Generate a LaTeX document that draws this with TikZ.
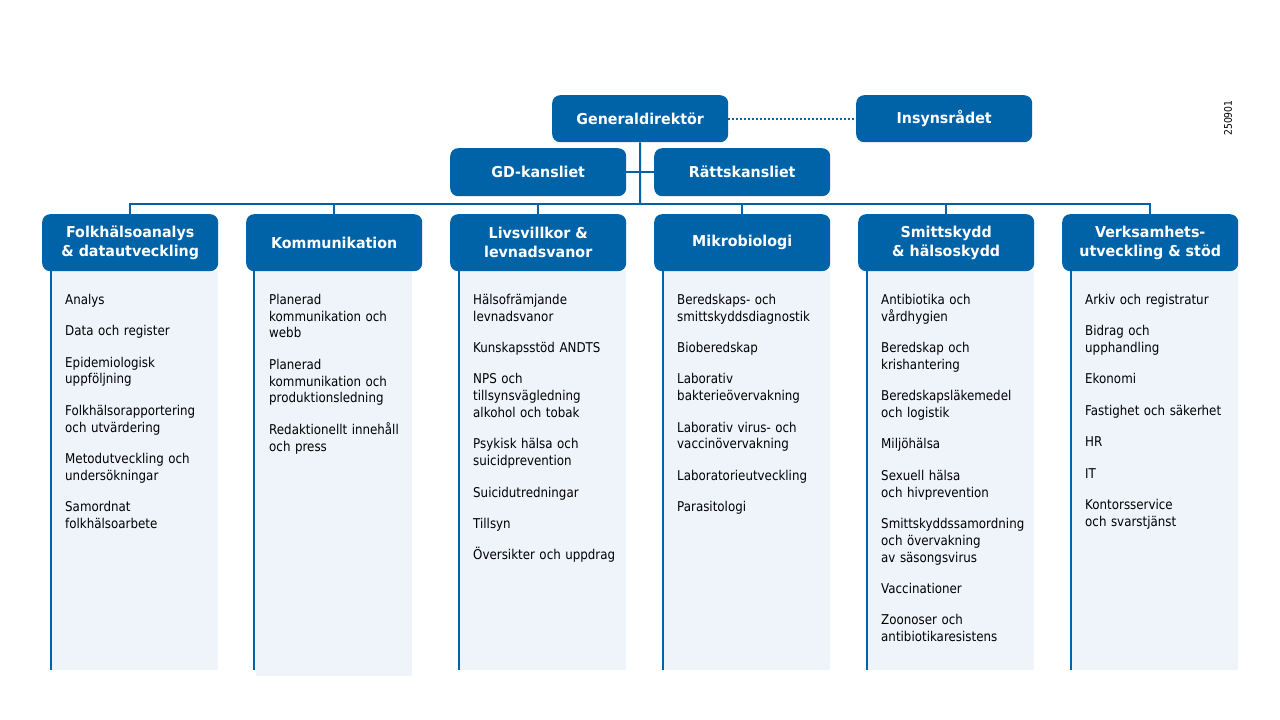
\documentclass[tikz,border=0pt]{standalone}
\usepackage{fontspec}
\setmainfont{DejaVu Sans}
\newfontfamily\hfont[FakeStretch=0.95]{DejaVu Sans}
\newfontfamily\lfont[FakeStretch=0.88]{DejaVu Sans}
\definecolor{fhmblue}{RGB}{0,99,167}
\definecolor{panelbg}{RGB}{239,244,250}
\newcommand{\fl}{\rule{0pt}{11pt}}
\begin{document}
\begin{tikzpicture}[x=1pt,y=-1pt,
 box/.style={fill=fhmblue, rounded corners=8pt, text=white, font=\hfont\bfseries\fontsize{15}{19}\selectfont, minimum width=176pt, minimum height=47pt, inner sep=0pt, align=center, anchor=north west},
 hbox/.style={box, minimum height=57pt},
 conn/.style={draw=fhmblue, line width=2pt},
 items/.style={anchor=north west, inner sep=0pt, text width=172pt, align=left, font=\lfont\fontsize{13.5}{16.8}\selectfont, text=black}
]
\useasboundingbox (0,0) rectangle (1280,720);
% panels
\foreach \i in {1,3,4,5,6}{
  \fill[panelbg] ({42+204*(\i-1)+8.5},271) rectangle ({42+204*(\i-1)+176},670);
  \draw[fhmblue, line width=2pt] ({42+204*(\i-1)+8.5},271) -- ({42+204*(\i-1)+8.5},670);
}
\fill[panelbg] (256,271) rectangle (412,676);
\draw[fhmblue, line width=2pt] (254,271) -- (254,670);
% top boxes
\node[box] (gd) at (552,95) {Generaldirektör};
\node[box] (ins) at (856,95) {Insynsrådet};
\node[box, minimum height=48pt] (gdk) at (450,148) {GD-kansliet};
\node[box, minimum height=48pt] (rk) at (654,148) {Rättskansliet};
% headers
\foreach \i/\t in {1/{Folkhälsoanalys\\ \& datautveckling},2/{Kommunikation},3/{Livsvillkor \&\\ levnadsvanor},4/{Mikrobiologi},5/{Smittskydd\\ \& hälsoskydd},6/{Verksamhets-\\ utveckling \& stöd}}{
  \node[hbox] (h\i) at ({42+204*(\i-1)},214) {\t};
}
% connectors
\coordinate (jn) at (640,204);
\draw[conn] (gd.south) -- (jn);
\draw[conn] (gdk.east) -- (gdk.east -| gd.south);
\draw[conn] (rk.west) -- (rk.west -| gd.south);
\draw[conn] (h1.north) -- (h1.north |- jn) -- (h6.north |- jn) -- (h6.north);
\foreach \i in {2,3,4,5}{
  \draw[conn] (h\i.north |- jn) -- (h\i.north);
}
\draw[fhmblue, line width=2pt, dash pattern=on 2pt off 2pt] (gd.east) -- (ins.west);
% version stamp
\node[rotate=90, font=\lfont\fontsize{10.5}{12}\selectfont, inner sep=0pt] (ver) at (1228,118) {250901};
% items
\node[items] (l1) at (65,293) {\fl Analys\\[14.6pt]
Data och register\\[14.6pt]
Epidemiologisk\\ uppföljning\\[14.6pt]
Folkhälsorapportering\\ och utvärdering\\[14.6pt]
Metodutveckling och\\ undersökningar\\[14.6pt]
Samordnat\\ folkhälsoarbete};
\node[items] (l2) at (269,293) {\fl Planerad\\ kommunikation och\\ webb\\[14.6pt]
Planerad\\ kommunikation och\\ produktionsledning\\[14.6pt]
Redaktionellt innehåll\\ och press};
\node[items] (l3) at (473,293) {\fl Hälsofrämjande\\ levnadsvanor\\[14.6pt]
Kunskapsstöd ANDTS\\[14.6pt]
NPS och\\ tillsynsvägledning\\ alkohol och tobak\\[14.6pt]
Psykisk hälsa och\\ suicidprevention\\[14.6pt]
Suicidutredningar\\[14.6pt]
Tillsyn\\[14.6pt]
Översikter och uppdrag};
\node[items] (l4) at (677,293) {\fl Beredskaps- och\\ smittskyddsdiagnostik\\[14.6pt]
Bioberedskap\\[14.6pt]
Laborativ\\ bakterieövervakning\\[14.6pt]
Laborativ virus- och\\ vaccinövervakning\\[14.6pt]
Laboratorieutveckling\\[14.6pt]
Parasitologi};
\node[items] (l5) at (881,293) {\fl Antibiotika och\\ vårdhygien\\[14.6pt]
Beredskap och\\ krishantering\\[14.6pt]
Beredskapsläkemedel\\ och logistik\\[14.6pt]
Miljöhälsa\\[14.6pt]
Sexuell hälsa\\ och hivprevention\\[14.6pt]
Smittskyddssamordning\\ och övervakning\\ av säsongsvirus\\[14.6pt]
Vaccinationer\\[14.6pt]
Zoonoser och\\ antibiotikaresistens};
\node[items] (l6) at (1085,293) {\fl Arkiv och registratur\\[14.6pt]
Bidrag och\\ upphandling\\[14.6pt]
Ekonomi\\[14.6pt]
Fastighet och säkerhet\\[14.6pt]
HR\\[14.6pt]
IT\\[14.6pt]
Kontorsservice\\ och svarstjänst};
\end{tikzpicture}
\end{document}
